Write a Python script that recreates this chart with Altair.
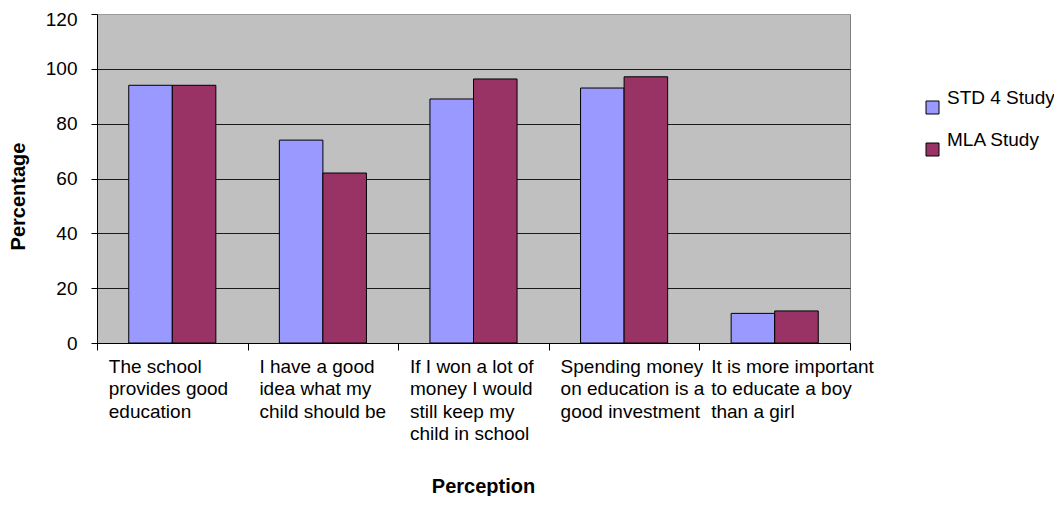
import altair as alt
import pandas as pd

categories = [
    "The school provides good education",
    "I have a good idea what my child should be",
    "If I won a lot of money I would still keep my child in school",
    "Spending money on education is a good investment",
    "It is more important to educate a boy than a girl",
]
label_lines = [
    ["The school", "provides good", "education"],
    ["I have a good", "idea what my", "child should be"],
    ["If I won a lot of", "money I would", "still keep my", "child in school"],
    ["Spending money", "on education is a", "good investment"],
    ["It is more important", "to educate a boy", "than a girl"],
]
series = ["STD 4 Study", "MLA Study"]
std4_values = [94, 74, 89, 93, 10.8]
mla_values = [94, 62, 96.3, 97.1, 11.7]
colors = ["#9999FF", "#993366"]
y_ticks = [0, 20, 40, 60, 80, 100, 120]

rows = []
for c, v in zip(categories, std4_values):
    rows.append({"Perception": c, "Series": series[0], "Percentage": v})
for c, v in zip(categories, mla_values):
    rows.append({"Perception": c, "Series": series[1], "Percentage": v})
df = pd.DataFrame(rows)

cats_js = "[" + ",".join("'" + c + "'" for c in categories) + "]"
lines_js = "[" + ",".join("[" + ",".join("'" + l + "'" for l in ls) + "]" for ls in label_lines) + "]"
label_expr = f"{lines_js}[indexof({cats_js}, datum.value)]"

FONT = "Liberation Sans"

chart = alt.Chart(df).mark_bar(stroke="#000000", strokeWidth=1).encode(
    x=alt.X(
        "Perception:N",
        sort=categories,
        scale=alt.Scale(paddingInner=0, paddingOuter=0),
        axis=alt.Axis(
            title="Perception",
            labelExpr=label_expr,
            labelAngle=0,
            labelAlign="left",
            labelBaseline="top",
            labelOffset=-64,
            labelPadding=7,
            labelFontSize=19,
            labelLineHeight=22.5,
            labelLimit=220,
            labelOverlap=False,
            labelColor="#000000",
            labelFont=FONT,
            tickBand="extent",
            tickSize=7,
            tickColor="#000000",
            domainColor="#000000",
            titleFont=FONT,
            titleFontSize=20,
            titleFontWeight="bold",
            titleColor="#000000",
            titleX=386,
            titleY=133,
            titleBaseline="top",
        ),
    ),
    xOffset=alt.XOffset(
        "Series:N",
        sort=series,
        scale=alt.Scale(paddingInner=0, paddingOuter=0.729),
    ),
    y=alt.Y(
        "Percentage:Q",
        scale=alt.Scale(domain=[0, 120], nice=False),
        axis=alt.Axis(
            title="Percentage",
            values=y_ticks,
            labelFontSize=19,
            labelFont=FONT,
            labelColor="#000000",
            labelPadding=14,
            labelOffset={"condition": {"test": "datum.value >= 120", "value": 5}, "value": 0},
            tickSize=6,
            tickColor="#000000",
            domainColor="#000000",
            gridColor={"condition": {"test": "datum.value >= 120", "value": "#9a9a9a"}, "value": "#1a1a1a"},
            gridWidth=1,
            titleFont=FONT,
            titleFontSize=20,
            titleFontWeight="bold",
            titleColor="#000000",
            titleX=-69,
            titleY=182,
        ),
    ),
    color=alt.Color(
        "Series:N",
        sort=series,
        scale=alt.Scale(domain=series, range=colors),
        legend=alt.Legend(
            title=None,
            orient="none",
            legendX=826,
            legendY=84,
            symbolType="square",
            symbolSize=169,
            symbolStrokeColor="#000000",
            symbolStrokeWidth=1,
            labelFontSize=19,
            labelFont=FONT,
            labelColor="#000000",
            labelBaseline="bottom",
            rowPadding=14,
            padding=0,
            labelOffset=5,
        ),
    ),
).properties(
    width=753,
    height=329,
    autosize=alt.AutoSizeParams(type="none"),
    padding={"left": 89, "top": 6, "right": 204, "bottom": 153},
).configure_view(
    fill="#C0C0C0",
    stroke="#808080",
    strokeWidth=1,
)

chart.save("out.html", embed_options={"renderer": "svg", "actions": False})
